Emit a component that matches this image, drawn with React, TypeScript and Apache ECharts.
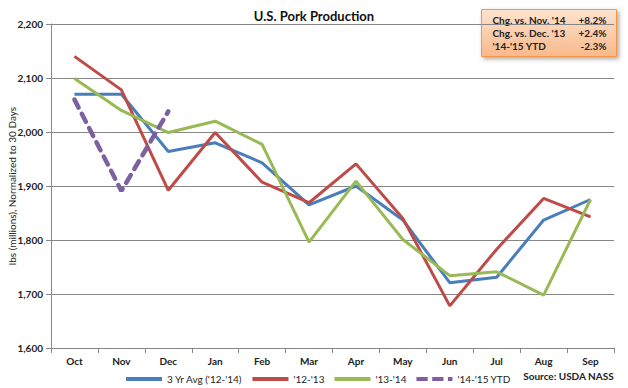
import React, { useEffect, useRef } from "react";
import * as echarts from "echarts";

const months = ["Oct", "Nov", "Dec", "Jan", "Feb", "Mar", "Apr", "May", "Jun", "Jul", "Aug", "Sep"];
const avg3yr = [2070, 2070, 1964, 1980, 1943, 1865, 1900, 1837, 1721, 1731, 1837, 1875];
const y1213 = [2140, 2078, 1892, 1999, 1907, 1869, 1941, 1840, 1678, 1783, 1877, 1843];
const y1314 = [2099, 2040, 1999, 2020, 1977, 1796, 1909, 1801, 1734, 1741, 1698, 1875];
const y1415 = [2060, 1891, 2038];
const boxRows = [
  ["Chg. vs. Nov. '14", "+8.2%"],
  ["Chg. vs. Dec. '13", "+2.4%"],
  ["'14-'15 YTD", "-2.3%"],
];

const FONT = "Lato, 'Liberation Sans', sans-serif";
const BOX_W = 135;
const BOX_H = 47;

export default function App() {
  const ref = useRef<HTMLDivElement>(null);
  useEffect(() => {
    if (!ref.current) return;
    const chart = echarts.init(ref.current, null, { renderer: "svg" });
    const boxTexts: any[] = [];
    boxRows.forEach((r, i) => {
      boxTexts.push({
        type: "text",
        x: 11,
        y: 10 + i * 13,
        style: { text: r[0], font: `bold 10px ${FONT}`, fill: "#222", verticalAlign: "middle" },
      });
      boxTexts.push({
        type: "text",
        x: BOX_W - 10,
        y: 10 + i * 13,
        style: { text: r[1], font: `bold 10px ${FONT}`, fill: "#222", align: "right", verticalAlign: "middle" },
      });
    });
    chart.setOption({
      animation: false,
      textStyle: { fontFamily: FONT },
      title: {
        text: "U.S. Pork Production",
        left: "center",
        top: 4,
        textStyle: { fontSize: 13, fontWeight: "bold", color: "#111", fontFamily: FONT },
      },
      grid: { left: 51, right: 14, top: 24, bottom: 40, outerBoundsMode: "none", containLabel: false },
      legend: {
        left: 121,
        top: 369,
        itemWidth: 36,
        itemHeight: 4,
        itemGap: 10,
        symbolKeepAspect: false,
        textStyle: { fontSize: 10, color: "#222", fontFamily: FONT },
        data: [
          { name: "3 Yr Avg ('12-'14)", icon: "rect" },
          { name: "'12-'13", icon: "rect" },
          { name: "'13-'14", icon: "rect" },
          { name: "'14-'15 YTD", icon: "path://M0,0h10v4h-10z M14,0h10v4h-10z M28,0h4v4h-4z" },
        ],
      },
      xAxis: {
        type: "category",
        data: months,
        boundaryGap: true,
        axisLine: { lineStyle: { color: "#868686" } },
        axisTick: { show: true, length: 5, lineStyle: { color: "#868686" } },
        axisLabel: { fontSize: 10, fontWeight: "bold", color: "#222", margin: 8 },
      },
      yAxis: {
        type: "value",
        min: 1600,
        max: 2200,
        interval: 100,
        name: "lbs (millions), Normalized to 30 Days",
        nameLocation: "middle",
        nameGap: 34,
        nameMoveOverlap: false,
        nameTextStyle: { fontSize: 10, color: "#222" },
        axisLine: { show: true, lineStyle: { color: "#868686" } },
        axisTick: { show: true, length: 5, lineStyle: { color: "#868686" } },
        splitLine: { lineStyle: { color: "#868686", width: 1 } },
        axisLabel: {
          fontSize: 10,
          fontWeight: "bold",
          color: "#222",
          margin: 8,
          formatter: (v: number) => v.toLocaleString("en-US"),
        },
      },
      series: [
        {
          name: "3 Yr Avg ('12-'14)",
          type: "line",
          data: avg3yr,
          symbol: "none",
          itemStyle: { color: "#4a7ebb" },
          lineStyle: { width: 3, color: "#4a7ebb" },
        },
        {
          name: "'12-'13",
          type: "line",
          data: y1213,
          symbol: "none",
          itemStyle: { color: "#be4b48" },
          lineStyle: { width: 3, color: "#be4b48" },
        },
        {
          name: "'13-'14",
          type: "line",
          data: y1314,
          symbol: "none",
          itemStyle: { color: "#98b954" },
          lineStyle: { width: 3, color: "#98b954" },
        },
        {
          name: "'14-'15 YTD",
          type: "line",
          data: y1415,
          symbol: "none",
          z: 5,
          itemStyle: { color: "#7d60a0" },
          lineStyle: { width: 4.5, color: "#7d60a0", type: [9, 7], cap: "round" },
        },
      ],
      graphic: [
        {
          type: "text",
          right: 14,
          top: 371,
          style: { text: "Source: USDA NASS", font: `bold 10px ${FONT}`, fill: "#222" },
        },
        {
          type: "group",
          left: 481,
          top: 9,
          children: [
            {
              type: "rect",
              shape: { x: 0, y: 0, width: BOX_W, height: BOX_H },
              style: {
                fill: new echarts.graphic.LinearGradient(0, 0, 0, 1, [
                  { offset: 0, color: "#fde3cf" },
                  { offset: 1, color: "#f9b98a" },
                ]),
                stroke: "#f79646",
                lineWidth: 1,
                shadowBlur: 4,
                shadowOffsetX: 2,
                shadowOffsetY: 2,
                shadowColor: "rgba(0,0,0,0.35)",
              },
            },
            ...boxTexts,
          ],
        },
      ],
    });
    return () => chart.dispose();
  }, []);
  return <div ref={ref} style={{ width: 628, height: 388, position: "absolute", left: 0, top: 0 }} />;
}
